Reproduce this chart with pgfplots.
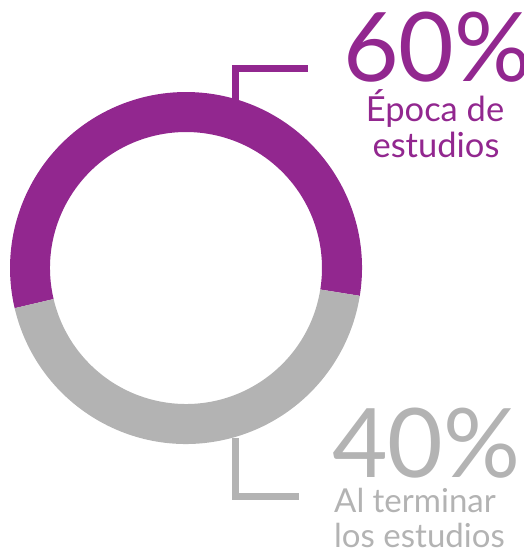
\documentclass[border=0pt]{standalone}
\usepackage{pgfplots}
\pgfplotsset{compat=1.18}
\usepackage{fontspec}
\setmainfont{Lato}
\definecolor{cpurple}{HTML}{92278F}
\definecolor{cgray}{HTML}{B3B3B3}
\begin{document}
\begin{tikzpicture}
% share data (percent) and measured split angles of the ring as drawn
\def\purpleshare{60}\def\grayshare{40}
\def\aStart{-9.1}\def\aMid{193.2}
\def\Rout{176bp}\def\Rin{136bp}\def\thick{40bp}
\begin{axis}[
  scale only axis, width=524bp, height=554bp,
  xmin=0, xmax=524, ymin=0, ymax=554, y dir=reverse,
  hide axis, clip=false]
% purple segment (60%)
\fill[cpurple] (axis cs:186,268) ++(\aStart:\Rout)
  arc[start angle=\aStart, end angle=\aMid, radius=\Rout]
  -- ++(\aMid+180:\thick)
  arc[start angle=\aMid, end angle=\aStart, radius=\Rin] -- cycle;
% gray segment (40%)
\fill[cgray] (axis cs:186,268) ++(\aMid:\Rout)
  arc[start angle=\aMid, end angle=360+\aStart, radius=\Rout]
  -- ++(\aStart+180:\thick)
  arc[start angle=360+\aStart, end angle=\aMid, radius=\Rin] -- cycle;
% leader lines
\draw[cpurple, line width=7bp, miter limit=10]
  (axis cs:235.5,100) -- (axis cs:235.5,68.7) -- (axis cs:308.3,68.7);
\draw[cgray, line width=7.5bp, miter limit=10]
  (axis cs:235.5,438) -- (axis cs:235.5,496.5) -- (axis cs:299,496.5);
% labels
\node[anchor=base west, inner sep=0pt, text=cpurple, font=\fontsize{96bp}{96bp}\selectfont]
  at (axis cs:343,82) {\purpleshare\%};
\node[anchor=base, inner sep=0pt, text=cpurple, font=\fontsize{34.5bp}{35bp}\selectfont]
  at (axis cs:435,122) {Época de};
\node[anchor=base, inner sep=0pt, text=cpurple, font=\fontsize{34.5bp}{35bp}\selectfont]
  at (axis cs:436,157) {estudios};
\node[anchor=base west, inner sep=0pt, text=cgray, font=\fontsize{96bp}{96bp}\selectfont]
  at (axis cs:332,477) {\grayshare\%};
\node[anchor=base west, inner sep=0pt, text=cgray, font=\fontsize{33bp}{35bp}\selectfont]
  at (axis cs:334,512) {Al terminar};
\node[anchor=base west, inner sep=0pt, text=cgray, font=\fontsize{33bp}{35bp}\selectfont]
  at (axis cs:334,547) {los estudios};
\end{axis}
\pgfresetboundingbox
\path (0,0) rectangle (524bp,554bp);
\end{tikzpicture}
\end{document}
